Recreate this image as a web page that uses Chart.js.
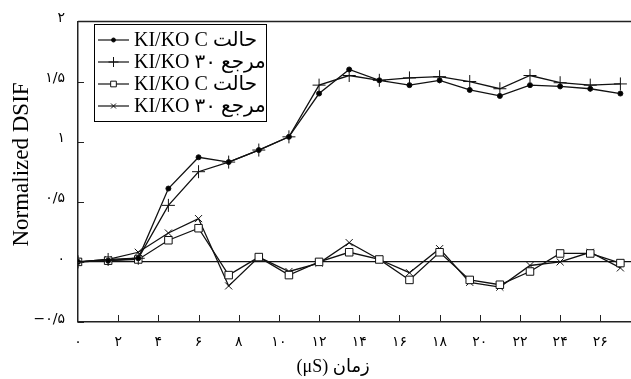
<!DOCTYPE html>
<html><head><meta charset="utf-8">
<script src="https://cdn.jsdelivr.net/npm/chart.js@4/dist/chart.umd.min.js"></script>
<style>
html,body{margin:0;padding:0;background:#fff;overflow:hidden;width:631px;height:379px}
#wrap{position:absolute;left:0;top:0;width:660px;height:379px}
</style>
</head><body><div id="wrap"><canvas id="c" width="660" height="379"></canvas></div>
<script>
// ---- data ----
const timeUs = [0,1.5,3,4.5,6,7.5,9,10.5,12,13.5,15,16.5,18,19.5,21,22.5,24,25.5,27];
const stateC_main  = [0,0.01,0.03,0.61,0.87,0.83,0.93,1.04,1.40,1.60,1.51,1.47,1.51,1.43,1.38,1.47,1.46,1.44,1.40];
const ref30_main   = [0,0.02,0.03,0.47,0.75,0.83,0.93,1.04,1.47,1.55,1.51,1.53,1.54,1.50,1.44,1.55,1.49,1.47,1.48];
const stateC_small = [0,0.01,0.02,0.18,0.28,-0.11,0.04,-0.11,0.00,0.08,0.02,-0.15,0.08,-0.15,-0.19,-0.08,0.07,0.07,-0.01];
const ref30_small  = [0,0.02,0.08,0.24,0.36,-0.20,0.04,-0.08,-0.01,0.16,0.02,-0.09,0.11,-0.17,-0.21,-0.03,0.00,0.08,-0.05];
const seriesNames  = ['KI/KO C حالت','KI/KO ۳۰ مرجع','KI/KO C حالت','KI/KO ۳۰ مرجع'];
const xTickValues  = [0,2,4,6,8,10,12,14,16,18,20,22,24,26,28];
const xTickLabels  = ['۰','۲','۴','۶','۸','۱۰','۱۲','۱۴','۱۶','۱۸','۲۰','۲۲','۲۴','۲۶','۲۸'];
const yTickValues  = [-0.5,0,0.5,1,1.5,2];
const yTickLabels  = ['−۰/۵','۰','۰/۵','۱','۱/۵','۲'];
const xTitle = '(μS) زمان';
const yTitle = 'Normalized DSIF';

const pts = arr => arr.map((v,i)=>({x:timeUs[i], y:v}));
const styles = [
  {pointStyle:'circle',   pointRadius:2.5, pointBackgroundColor:'#000'},
  {pointStyle:'cross',    pointRadius:6.5, pointBackgroundColor:'#000'},
  {pointStyle:'rect',     pointRadius:5.3, pointBackgroundColor:'#fff'},
  {pointStyle:'crossRot', pointRadius:5,   pointBackgroundColor:'#000'}
];
const datasets = [stateC_main, ref30_main, stateC_small, ref30_small].map((d,i)=>Object.assign({
  label: seriesNames[i], data: pts(d), borderColor:'#111', borderWidth:1.3,
  pointBorderColor:'#111', pointBorderWidth:1, tension:0, fill:false
}, styles[i]));

const decor = {
  id:'decor',
  afterDraw(chart){
    const ctx = chart.ctx, a = chart.chartArea, xs = chart.scales.x, ys = chart.scales.y;
    ctx.save();
    ctx.strokeStyle = '#222'; ctx.lineWidth = 1.5;
    // top frame
    ctx.beginPath(); ctx.moveTo(a.left, a.top); ctx.lineTo(a.right, a.top); ctx.stroke();
    ctx.lineWidth = 1;
    // inside ticks
    xTickValues.forEach(v=>{ if(v===0) return; const px = Math.round(xs.getPixelForValue(v))+0.5;
      ctx.beginPath(); ctx.moveTo(px, a.bottom); ctx.lineTo(px, a.bottom-7); ctx.stroke(); });
    yTickValues.forEach(v=>{ const py = Math.round(ys.getPixelForValue(v))+0.5;
      ctx.beginPath(); ctx.moveTo(a.left, py); ctx.lineTo(a.left+6, py); ctx.stroke(); });
    // axis titles
    ctx.fillStyle = '#000';
    ctx.textAlign = 'center'; ctx.textBaseline = 'middle';
    ctx.font = '23px "Liberation Serif"';
    ctx.save(); ctx.translate(22, ys.getPixelForValue(0.81)); ctx.rotate(-Math.PI/2);
    ctx.fillText(yTitle, 0, 0); ctx.restore();
    ctx.font = '18px "Liberation Serif", "DejaVu Sans"';
    ctx.fillText(xTitle, xs.getPixelForValue(12.7), 367);
    // legend
    const L = 94.5, T = 24.5, W = 172, H = 97;
    ctx.fillStyle = '#fff'; ctx.fillRect(L, T, W, H);
    ctx.strokeStyle = '#000'; ctx.lineWidth = 1; ctx.strokeRect(L, T, W, H);
    ctx.font = '20px "Liberation Serif", "DejaVu Sans"';
    ctx.textAlign = 'left';
    chart.data.datasets.forEach((ds,i)=>{
      const y = 40 + i*22;
      ctx.strokeStyle = '#111'; ctx.lineWidth = 1.2;
      ctx.beginPath(); ctx.moveTo(98, y); ctx.lineTo(129, y); ctx.stroke();
      ctx.fillStyle = ds.pointBackgroundColor; ctx.strokeStyle = '#111'; ctx.lineWidth = 1;
      const r = {circle:2, cross:5, rect:4, crossRot:3.5}[ds.pointStyle];
      Chart.helpers.drawPoint(ctx, {pointStyle: ds.pointStyle, radius: r, rotation: 0, borderWidth: 1}, 113.5, y);
      ctx.fillStyle = '#000';
      ctx.fillText(ds.label, 134, y+1);
    });
    ctx.restore();
  }
};

new Chart(document.getElementById('c'), {
  type:'line',
  data:{datasets},
  options:{
    responsive:false, animation:false, devicePixelRatio:1,
    layout:{autoPadding:false, padding:{top:13, right:5, left:0, bottom:0}},
    plugins:{legend:{display:false}, tooltip:{enabled:false}},
    scales:{
      x:{type:'linear', min:0, max:28,
        afterBuildTicks: s => { s.ticks = xTickValues.map(v=>({value:v})); },
        afterFit: s => { s.height = 57; },
        ticks:{callback:(v)=>xTickLabels[xTickValues.indexOf(v)], color:'#000', padding:12,
               font:{family:'"DejaVu Sans"', size:14}, maxRotation:0, autoSkip:false},
        grid:{display:true, color:'rgba(0,0,0,0)', drawTicks:false},
        border:{display:true, color:'#222', width:1.5}
      },
      y:{type:'linear', min:-0.5, max:2,
        afterBuildTicks: s => { s.ticks = yTickValues.map(v=>({value:v})); },
        afterFit: s => { s.width = 78; },
        ticks:{callback:(v)=>yTickLabels[yTickValues.indexOf(v)], color:'#000', padding:13,
               labelOffset:-3, font:{family:'"DejaVu Sans"', size:14}},
        grid:{display:true, drawTicks:false, lineWidth:1.3,
              color: c => (c.tick && c.tick.value === 0) ? '#111' : 'rgba(0,0,0,0)'},
        border:{display:true, color:'#222', width:1.5}
      }
    }
  },
  plugins:[decor]
});
</script></body></html>
